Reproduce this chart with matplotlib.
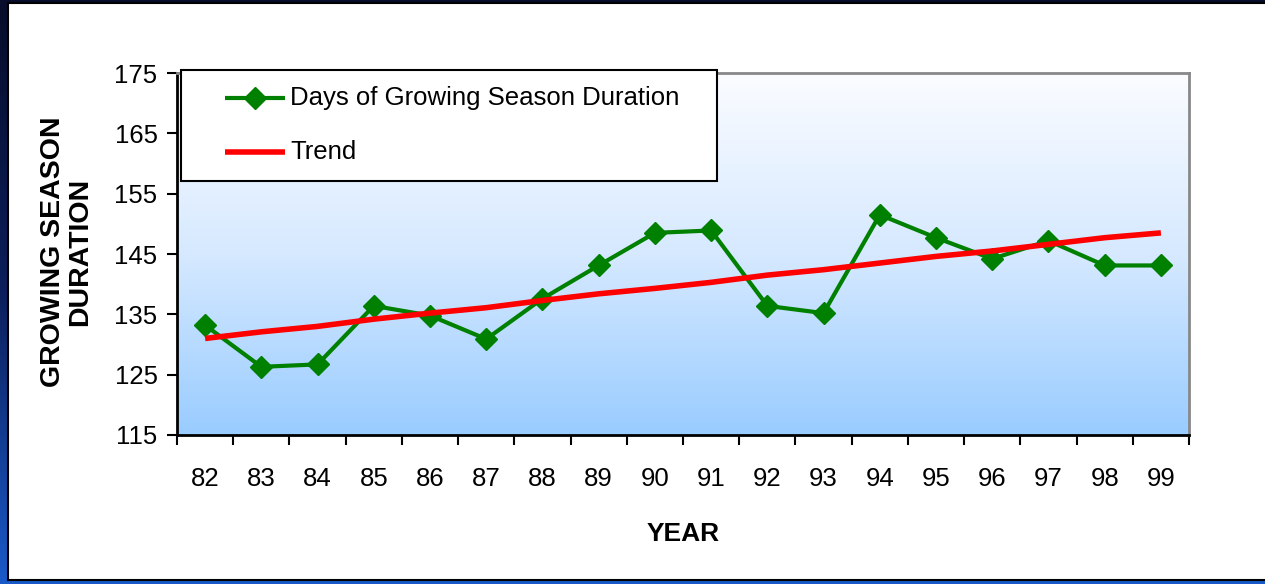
import numpy as np
import matplotlib
matplotlib.use("Agg")
import matplotlib.pyplot as plt
from matplotlib.patches import Rectangle
from matplotlib.lines import Line2D
from matplotlib.colors import LinearSegmentedColormap

# ── Data ──────────────────────────────────────────────────────
YEARS = ["82", "83", "84", "85", "86", "87", "88", "89", "90",
         "91", "92", "93", "94", "95", "96", "97", "98", "99"]
DAYS  = [133.2, 126.3, 126.7, 136.4, 134.8, 130.9, 137.6, 143.1, 148.5,
         148.9, 136.4, 135.2, 151.5, 147.7, 144.2, 147.2, 143.1, 143.1]
TREND = [131.0, 132.1, 133.0, 134.2, 135.2, 136.1, 137.3, 138.4, 139.3,
         140.3, 141.5, 142.4, 143.5, 144.6, 145.5, 146.6, 147.7, 148.5]
Y_TICKS = [115, 125, 135, 145, 155, 165, 175]

GREEN = "#008000"
RED   = "#ff0000"
FS    = 18.5

plt.rcParams["font.family"] = ["Liberation Sans", "DejaVu Sans"]

fig = plt.figure(figsize=(12.65, 5.84), dpi=100)

# ── dark slide background + white panel ──
bg = fig.add_axes([0, 0, 1, 1], zorder=-10)
bg.axis("off")
bg_cmap = LinearSegmentedColormap.from_list("bg", ["#070d2a", "#0c1f5c", "#1a5ac8"])
bg.imshow(np.linspace(0, 1, 256).reshape(-1, 1), cmap=bg_cmap, aspect="auto",
          extent=[0, 1, 0, 1], origin="upper")
bg.set_xlim(0, 1)
bg.set_ylim(0, 1)
bg.add_patch(Rectangle((8 / 1265, 4 / 584), 1.0, 1 - 7 / 584,
                       facecolor="white", edgecolor="black", linewidth=1.5))

# ── plot area ──
ax = fig.add_axes([177 / 1265, 1 - 435 / 584, 1012 / 1265, 362 / 584])
x = np.arange(len(YEARS))

grad = LinearSegmentedColormap.from_list("grad", ["#fbfcff", "#d6e9ff", "#99ccff"])
ax.imshow(np.linspace(0, 1, 256).reshape(-1, 1), cmap=grad, aspect="auto",
          extent=[-0.5, len(YEARS) - 0.5, 115, 175], origin="upper", zorder=0)

ax.plot(x, DAYS, color=GREEN, linewidth=3, marker="D", markersize=11.5,
        label="Days of Growing Season Duration", zorder=3)
ax.plot(x, TREND, color=RED, linewidth=4,
        label="Trend", zorder=4, solid_capstyle="butt")

ax.set_xlim(-0.5, len(YEARS) - 0.5)
ax.set_ylim(115, 175)
ax.set_yticks(Y_TICKS)
ax.set_xticks(x)
ax.set_xticklabels(YEARS)
ax.set_xticks(np.arange(len(YEARS) + 1) - 0.5, minor=True)
ax.tick_params(axis="x", which="major", length=0, pad=23, labelsize=FS)
ax.tick_params(axis="x", which="minor", length=7, width=1.5, direction="out")
ax.tick_params(axis="y", length=7, width=1.5, direction="out", pad=7, labelsize=FS)

for side in ["left", "bottom"]:
    ax.spines[side].set_color("black")
    ax.spines[side].set_linewidth(2)
for side in ["top", "right"]:
    ax.spines[side].set_color("#888888")
    ax.spines[side].set_linewidth(2)

fig.text(683 / 1265, 1 - 534 / 584, "YEAR", ha="center", va="center",
         fontsize=19, fontweight="bold")
fig.text(67 / 1265, 1 - 252 / 584, "GROWING SEASON\nDURATION", rotation=90,
         ha="center", va="center", fontsize=20.5, fontweight="bold",
         linespacing=1.05)

# ── legend box (drawn by hand to match spacing) ──
tr = ax.transAxes
ax.add_patch(Rectangle((0.004, 0.7017), 0.5296, 0.3063, transform=tr,
                       facecolor="white", edgecolor="black", linewidth=1.5,
                       clip_on=False, zorder=10))
rows = [(0.931, ax.lines[0]), (0.7818, ax.lines[1])]
for y, ln in rows:
    h = Line2D([0.0474, 0.1067], [y, y], transform=tr, color=ln.get_color(),
               linewidth=ln.get_linewidth(), clip_on=False, zorder=11,
               solid_capstyle="butt")
    ax.add_line(h)
    if ln.get_marker() not in (None, "None", ""):
        ax.add_line(Line2D([0.077], [y], transform=tr, color=ln.get_color(),
                           marker=ln.get_marker(), markersize=ln.get_markersize(),
                           linestyle="none", clip_on=False, zorder=12))
    ax.text(0.1117, y, ln.get_label(), transform=tr, fontsize=FS,
            ha="left", va="center", zorder=12)

fig.savefig("out.png", dpi=100)
